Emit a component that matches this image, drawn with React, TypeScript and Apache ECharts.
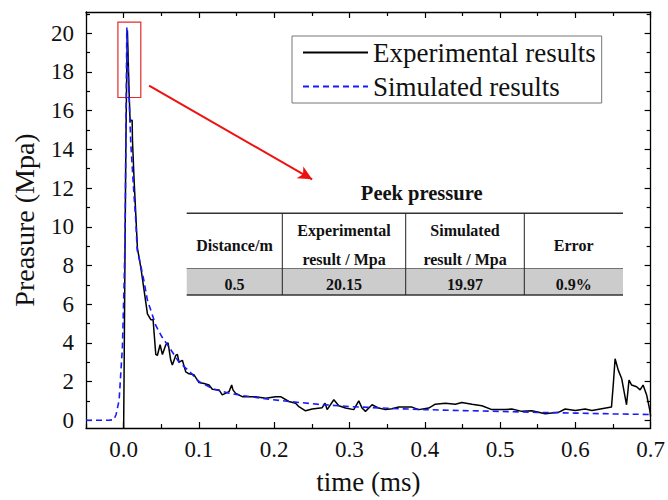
import React, { useEffect, useRef } from "react";
import * as echarts from "echarts";

// ---- data ----
const experimental: [number, number][] = [
  [0.0, -0.4], [-0.0007, -0.4], [0.0005, 2.0], [0.002, 9.7], [0.0029, 14.0], [0.0042, 18.2], [0.005, 20.15],
  [0.0073, 16.9], [0.0086, 15.4], [0.0095, 15.5], [0.0113, 15.5], [0.0117, 14.5], [0.0139, 12.4],
  [0.0162, 10.6], [0.0183, 8.9], [0.0228, 7.9], [0.0272, 6.7], [0.0316, 5.5], [0.0361, 5.2],
  [0.0391, 5.2], [0.0427, 3.4], [0.0448, 3.35], [0.0484, 3.9], [0.0515, 3.4], [0.056, 3.9],
  [0.059, 4.0], [0.0626, 3.1], [0.0647, 2.85], [0.0692, 3.35], [0.0714, 3.4], [0.0736, 3.0],
  [0.078, 3.1], [0.0825, 2.5], [0.0869, 2.4], [0.0935, 2.35], [0.1001, 1.95], [0.1068, 1.9],
  [0.1134, 1.82], [0.1178, 1.6], [0.1267, 1.57], [0.131, 1.31], [0.14, 1.48], [0.1435, 1.82],
  [0.1452, 1.57], [0.1488, 1.39], [0.1576, 1.22], [0.1753, 1.22], [0.1886, 1.14], [0.2019, 1.22],
  [0.2085, 1.22], [0.2195, 0.97], [0.2284, 0.88], [0.2328, 0.7], [0.2416, 0.49], [0.2504, 0.58],
  [0.2637, 0.65], [0.2676, 0.88], [0.2703, 0.55], [0.2792, 1.06], [0.2858, 0.75], [0.2947, 0.63],
  [0.3057, 0.55], [0.3123, 1.0], [0.3167, 0.63], [0.3212, 0.46], [0.33, 0.8], [0.3389, 0.63],
  [0.3477, 0.55], [0.3565, 0.6], [0.3654, 0.68], [0.383, 0.68], [0.3919, 0.55], [0.4052, 0.63],
  [0.414, 0.83], [0.4273, 0.88], [0.4406, 0.83], [0.4493, 0.92], [0.4626, 0.83], [0.4759, 0.75],
  [0.4891, 0.55], [0.5069, 0.55], [0.5156, 0.58], [0.5289, 0.46], [0.5422, 0.49], [0.56, 0.34],
  [0.5776, 0.41], [0.5865, 0.58], [0.6, 0.51], [0.613, 0.58], [0.622, 0.51], [0.635, 0.6],
  [0.648, 0.68], [0.6505, 1.9], [0.6528, 3.18], [0.657, 2.59], [0.6615, 2.16], [0.668, 0.8],
  [0.6713, 2.08], [0.6748, 1.82], [0.6814, 1.73], [0.686, 1.57], [0.69, 1.82], [0.6947, 1.31],
  [0.6992, 0.46], [0.7, 0.2],
];

const simulated: [number, number][] = [
  [-0.05, 0], [-0.02, 0], [-0.013, 0.03], [-0.01, 0.3], [-0.006, 1.05], [-0.0016, 3.8],
  [0.0007, 7.2], [0.002, 9.7], [0.003, 14.8], [0.0042, 20.3], [0.006, 18.0], [0.0095, 14.3],
  [0.014, 11.5], [0.016, 10.4], [0.018, 8.8], [0.0227, 8.0], [0.027, 7.2], [0.0316, 6.2],
  [0.036, 5.7], [0.0427, 4.9], [0.051, 4.3], [0.06, 3.8], [0.0736, 3.0], [0.087, 2.55],
  [0.1, 2.0], [0.12, 1.6], [0.14, 1.4], [0.16, 1.27], [0.19, 1.1], [0.22, 0.97], [0.26, 0.82],
  [0.3, 0.71], [0.35, 0.62], [0.4, 0.55], [0.45, 0.5], [0.5, 0.46], [0.55, 0.41], [0.6, 0.37],
  [0.65, 0.33], [0.7, 0.3],
];

const seriesNames = ["Experimental results", "Simulated results"];
const xMajorTicks = [0, 0.1, 0.2, 0.3, 0.4, 0.5, 0.6, 0.7];
const xMinorTicks = [-0.05, 0.05, 0.15, 0.25, 0.35, 0.45, 0.55, 0.65];
const yMajorTicks = [0, 2, 4, 6, 8, 10, 12, 14, 16, 18, 20];
const yMinorTicks = [1, 3, 5, 7, 9, 11, 13, 15, 17, 19, 21];

// zoom box around the peak and the arrow pointing to the table (data coordinates)
const zoomBox: [[number, number], [number, number]] = [[-0.0076, 20.58], [0.0228, 16.68]];
const arrowFromTo: [[number, number], [number, number]] = [[0.0338, 17.3], [0.2504, 12.45]];

const tableTitle = "Peek pressure";
const tableHeaders = [["Distance/m"], ["Experimental", "result / Mpa"], ["Simulated", "result / Mpa"], ["Error"]];
const tableValues = ["0.5", "20.15", "19.97", "0.9%"];

const FONT = "'Liberation Serif', 'Times New Roman', serif";

export default function App() {
  const ref = useRef<HTMLDivElement>(null);

  useEffect(() => {
    if (!ref.current) return;
    const chart = echarts.init(ref.current, undefined, { renderer: "svg" });

    const xMin = -0.05, xMax = 0.7, yMin = -0.4, yMax = 21.1;
    const baseX = (position: string, ticks: number[], len: number, showLine: boolean, showLabel: boolean) => ({
      type: "value",
      position,
      min: xMin,
      max: xMax,
      axisLine: { show: showLine, onZero: false, lineStyle: { color: "#000", width: 1.3 } },
      axisTick: { show: true, inside: true, length: len, customValues: ticks, lineStyle: { color: "#000", width: 1.2 } },
      axisLabel: showLabel
        ? { show: true, customValues: ticks, margin: 10, color: "#111", fontFamily: FONT, fontSize: 23, formatter: (v: number) => v.toFixed(1) }
        : { show: false },
      splitLine: { show: false },
    });
    const baseY = (position: string, ticks: number[], len: number, showLine: boolean, showLabel: boolean) => ({
      type: "value",
      position,
      min: yMin,
      max: yMax,
      axisLine: { show: showLine, onZero: false, lineStyle: { color: "#000", width: 1.3 } },
      axisTick: { show: true, inside: true, length: len, customValues: ticks, lineStyle: { color: "#000", width: 1.2 } },
      axisLabel: showLabel
        ? { show: true, customValues: ticks, margin: 12, color: "#111", fontFamily: FONT, fontSize: 23, formatter: (v: number) => String(v) }
        : { show: false },
      splitLine: { show: false },
    });

    const xAxes: any[] = [
      {
        ...baseX("bottom", xMajorTicks, 6, true, true),
        name: "time (ms)",
        nameLocation: "middle",
        nameGap: 40,
        nameTextStyle: { fontFamily: FONT, fontSize: 27, color: "#111" },
      },
      baseX("bottom", xMinorTicks, 4, false, false),
      baseX("top", xMajorTicks, 6, true, false),
      baseX("top", xMinorTicks, 4, false, false),
    ];
    const yAxes: any[] = [
      {
        ...baseY("left", yMajorTicks, 6, true, true),
        name: "Preasure (Mpa)",
        nameLocation: "middle",
        nameGap: 48,
        nameRotate: 90,
        nameTextStyle: { fontFamily: FONT, fontSize: 28, color: "#111", padding: [0, 0, 0, 0] },
      },
      baseY("left", yMinorTicks, 4, false, false),
      baseY("right", yMajorTicks, 6, true, false),
      baseY("right", yMinorTicks, 4, false, false),
    ];

    // table inset
    const tLeft = 186.7, tRight = 623, tTop = 213.3, tMid = 268.5, tBottom = 295;
    const colX = [tLeft, 282.3, 405.7, 524.3, tRight];
    const tableGraphics: any[] = [
      {
        type: "text",
        x: 421.7,
        y: 193,
        style: { text: tableTitle, font: `bold 20.5px ${FONT}`, fill: "#111", align: "center", verticalAlign: "middle" },
      },
      { type: "rect", shape: { x: tLeft, y: tMid, width: tRight - tLeft, height: tBottom - tMid }, style: { fill: "#cccccc" } },
      { type: "line", shape: { x1: tLeft, y1: tTop, x2: tRight, y2: tTop }, style: { stroke: "#333", lineWidth: 1.5 } },
      { type: "line", shape: { x1: tLeft, y1: tMid, x2: tRight, y2: tMid }, style: { stroke: "#555", lineWidth: 0.8 } },
      { type: "line", shape: { x1: tLeft, y1: tBottom, x2: tRight, y2: tBottom }, style: { stroke: "#333", lineWidth: 1.5 } },
    ];
    for (let i = 1; i < colX.length - 1; i++) {
      tableGraphics.push({
        type: "line",
        shape: { x1: colX[i], y1: tTop, x2: colX[i], y2: tBottom },
        style: { stroke: "#222", lineWidth: 1 },
      });
    }
    tableHeaders.forEach((lines, i) => {
      const cx = (colX[i] + colX[i + 1]) / 2;
      const ys = lines.length === 1 ? [245] : [230, 259];
      lines.forEach((t, j) => {
        tableGraphics.push({
          type: "text",
          x: cx,
          y: ys[j],
          style: { text: t, font: `bold 16px ${FONT}`, fill: "#111", align: "center", verticalAlign: "middle" },
        });
      });
      tableGraphics.push({
        type: "text",
        x: cx,
        y: 284.5,
        style: { text: tableValues[i], font: `bold 16px ${FONT}`, fill: "#111", align: "center", verticalAlign: "middle" },
      });
    });

    chart.setOption({
      animation: false,
      backgroundColor: "#fff",
      grid: { left: 86, right: 16, top: 12, bottom: 68, containLabel: false },
      legend: {
        data: seriesNames,
        orient: "vertical",
        left: 292,
        top: 36,
        padding: [1, 6, 1, 10],
        itemGap: 3,
        itemWidth: 65,
        itemHeight: 2,
        itemStyle: { opacity: 0, borderWidth: 0 },
        borderColor: "#777",
        borderWidth: 1,
        borderRadius: 0,
        textStyle: { fontFamily: FONT, fontSize: 27, color: "#111", lineHeight: 31 },
      },
      xAxis: xAxes,
      yAxis: yAxes,
      series: [
        {
          name: seriesNames[0],
          type: "line",
          data: experimental,
          symbol: "none",
          xAxisIndex: 0,
          yAxisIndex: 0,
          lineStyle: { color: "#000", width: 1.5 },
          itemStyle: { color: "#000" },
          markArea: {
            silent: true,
            itemStyle: { color: "rgba(0,0,0,0)", borderColor: "#e8292a", borderWidth: 1.2 },
            data: [[{ coord: zoomBox[0] }, { coord: zoomBox[1] }]],
          },
          markLine: {
            silent: true,
            symbol: ["none", "arrow"],
            symbolSize: [10, 14],
            label: { show: false },
            lineStyle: { color: "#ee1111", width: 2, type: "solid" },
            data: [[{ coord: arrowFromTo[0] }, { coord: arrowFromTo[1] }]],
          },
        },
        {
          name: seriesNames[1],
          type: "line",
          data: simulated,
          symbol: "none",
          xAxisIndex: 0,
          yAxisIndex: 0,
          lineStyle: { color: "#1a1aff", width: 1.6, type: [6, 4] },
          itemStyle: { color: "#1a1aff" },
        },
      ],
      graphic: tableGraphics,
    });

    return () => chart.dispose();
  }, []);

  return <div ref={ref} style={{ position: "fixed", left: 0, top: 0, width: 668, height: 500 }} />;
}
